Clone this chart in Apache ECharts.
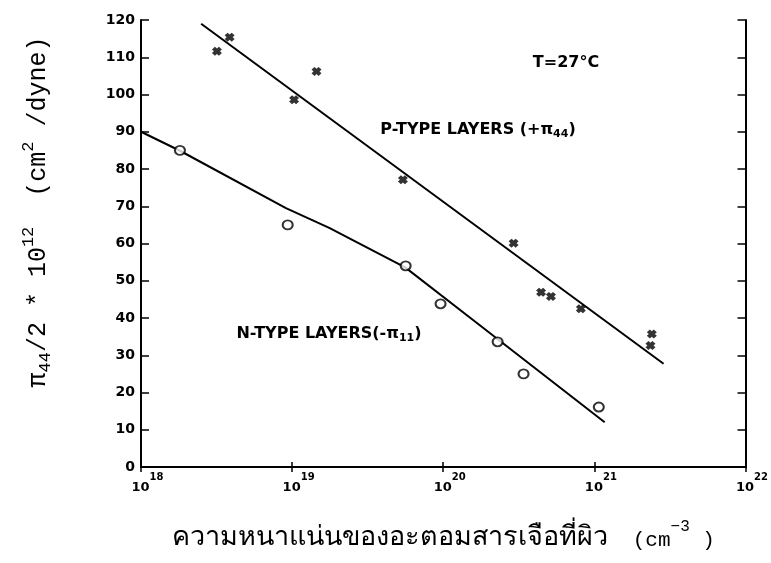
<!DOCTYPE html>
<html>
<head>
<meta charset="utf-8">
<script src="https://cdn.jsdelivr.net/npm/echarts@6/dist/echarts.min.js"></script>
<style>
  html, body { margin: 0; padding: 0; background: #fff; }
  #chart { width: 771px; height: 563px; }
</style>
</head>
<body>
<div id="chart"></div>
<script>
// p-type layers (+pi44), x markers
const pConc = [3.18e18, 3.86e18, 1.03e19, 1.45e19, 5.41e19, 2.92e20, 4.44e20, 5.16e20, 8.14e20, 2.40e21, 2.35e21];
const pVal = [111.6, 115.4, 98.6, 106.2, 77.1, 60.1, 46.9, 45.8, 42.5, 35.7, 32.6];
// n-type layers (-pi11), circles
const nConc = [1.81e18, 9.35e18, 5.64e19, 9.6e19, 2.29e20, 3.4e20, 1.07e21];
const nVal = [85, 65, 54, 43.8, 33.6, 25, 16.1];
// drawn fit lines
const pFitConc = [2.5e18, 2.87e21];
const pFitVal = [119, 27.7];
const nFitConc = [1e18, 1.81e18, 9.1e18, 1.76e19, 5.6e19, 1.47e20, 1.17e21];
const nFitVal = [90, 84.9, 69.5, 64.2, 53.6, 40.4, 12];
// axis ticks
const xDecades = [18, 19, 20, 21, 22];
const yTicks = [0, 10, 20, 30, 40, 50, 60, 70, 80, 90, 100, 110, 120];

const zip = (xs, ys) => xs.map((x, i) => [x, ys[i]]);
const crossPath = 'path://M0,3L3,0L5,2L7,0L10,3L8,5L10,7L7,10L5,8L3,10L0,7L2,5Z';
const labelFont = 'DejaVu Sans';
const monoFont = 'Liberation Mono';

const chart = echarts.init(document.getElementById('chart'));

const baseX = {
  type: 'log',
  logBase: 10,
  min: Math.pow(10, xDecades[0]),
  max: Math.pow(10, xDecades[xDecades.length - 1]),
  splitLine: { show: false },
  minorTick: { show: false },
  axisLine: { lineStyle: { color: '#000', width: 2 } },
  axisTick: { inside: true, length: 5, lineStyle: { color: '#000', width: 1.5 } }
};
const baseY = {
  type: 'value',
  min: yTicks[0],
  max: yTicks[yTicks.length - 1],
  interval: yTicks[1] - yTicks[0],
  splitLine: { show: false },
  axisLine: { show: true, lineStyle: { color: '#000', width: 2 } },
  axisTick: { show: true, inside: true, length: 8, lineStyle: { color: '#000', width: 1.5 } }
};

chart.setOption({
  backgroundColor: '#fff',
  animation: false,
  grid: { left: 141, right: 23, top: 20, bottom: 96 },
  xAxis: [
    Object.assign({}, baseX, {
      position: 'bottom',
      axisLabel: {
        margin: 5,
        formatter: v => '{b|10}{s|' + Math.round(Math.log10(v)) + '}',
        rich: {
          b: { fontFamily: labelFont, fontWeight: 'bold', fontSize: 13, color: '#000', lineHeight: 22, verticalAlign: 'bottom', padding: [0, 0, 0, 13] },
          s: { fontFamily: labelFont, fontWeight: 'bold', fontSize: 10, color: '#000', lineHeight: 22, verticalAlign: 'top' }
        }
      },
      name: '{t|ความหนาแน่นของอะตอมสารเจือที่ผิว}{a|  (cm}{p|−3}{a| )}',
      nameLocation: 'middle',
      nameGap: 52,
      nameTextStyle: {
        rich: {
          t: { fontFamily: 'Noto Sans', fontSize: 27, color: '#000', lineHeight: 36, verticalAlign: 'middle' },
          a: { fontFamily: monoFont, fontSize: 21, color: '#000', lineHeight: 36, verticalAlign: 'middle', padding: [6, 0, 0, 0] },
          p: { fontFamily: monoFont, fontSize: 16, color: '#000', lineHeight: 36, verticalAlign: 'top' }
        }
      }
    }),
    Object.assign({}, baseX, { position: 'top', axisLabel: { show: false } })
  ],
  yAxis: [
    Object.assign({}, baseY, {
      position: 'left',
      axisLabel: { fontFamily: labelFont, fontWeight: 'bold', fontSize: 14, color: '#000', margin: 6 }
    }),
    Object.assign({}, baseY, { position: 'right', axisLabel: { show: false } })
  ],
  series: [
    {
      name: 'P-type fit',
      type: 'line',
      data: zip(pFitConc, pFitVal),
      showSymbol: false,
      lineStyle: { color: '#000', width: 2 },
      z: 2
    },
    {
      name: 'N-type fit',
      type: 'line',
      data: zip(nFitConc, nFitVal),
      showSymbol: false,
      lineStyle: { color: '#000', width: 2 },
      z: 2
    },
    {
      name: 'P-TYPE LAYERS',
      type: 'scatter',
      data: zip(pConc, pVal),
      symbol: crossPath,
      symbolSize: [10, 9],
      itemStyle: { color: '#000' },
      z: 3
    },
    {
      name: 'N-TYPE LAYERS',
      type: 'scatter',
      data: zip(nConc, nVal),
      symbol: 'circle',
      symbolSize: [10, 9],
      itemStyle: { color: '#fff', borderColor: '#000', borderWidth: 2 },
      z: 3
    }
  ],
  graphic: [
    {
      type: 'text', x: 38, y: 212, rotation: Math.PI / 2,
      style: {
        text: '{a|π}{s|44}{a|/2 * 10}{p|12}{a|  (cm}{p|2}{a| /dyne)}',
        align: 'center', verticalAlign: 'middle', fill: '#000',
        rich: {
          a: { fontFamily: monoFont, fontSize: 25, lineHeight: 40, verticalAlign: 'middle', fill: '#000' },
          s: { fontFamily: monoFont, fontSize: 17, lineHeight: 40, verticalAlign: 'bottom', padding: [0, 0, 4, 0], fill: '#000' },
          p: { fontFamily: monoFont, fontSize: 17, lineHeight: 40, verticalAlign: 'top', padding: [2, 0, 0, 0], fill: '#000' }
        }
      }
    },
    {
      type: 'text', x: 566, y: 63,
      style: { text: 'T=27°C', font: 'bold 16px "DejaVu Sans"', fill: '#000', align: 'center', verticalAlign: 'middle' }
    },
    {
      type: 'text', x: 478, y: 130,
      style: {
        text: '{a|P-TYPE LAYERS (+π}{s|44}{a|)}',
        align: 'center', verticalAlign: 'middle', fill: '#000',
        rich: {
          a: { fontFamily: labelFont, fontWeight: 'bold', fontSize: 16, lineHeight: 24, verticalAlign: 'middle', fill: '#000' },
          s: { fontFamily: labelFont, fontWeight: 'bold', fontSize: 11, lineHeight: 24, verticalAlign: 'bottom', padding: [0, 0, 2, 0], fill: '#000' }
        }
      }
    },
    {
      type: 'text', x: 329, y: 334,
      style: {
        text: '{a|N-TYPE LAYERS(-π}{s|11}{a|)}',
        align: 'center', verticalAlign: 'middle', fill: '#000',
        rich: {
          a: { fontFamily: labelFont, fontWeight: 'bold', fontSize: 16, lineHeight: 24, verticalAlign: 'middle', fill: '#000' },
          s: { fontFamily: labelFont, fontWeight: 'bold', fontSize: 11, lineHeight: 24, verticalAlign: 'bottom', padding: [0, 0, 2, 0], fill: '#000' }
        }
      }
    }
  ]
});
</script>
</body>
</html>
